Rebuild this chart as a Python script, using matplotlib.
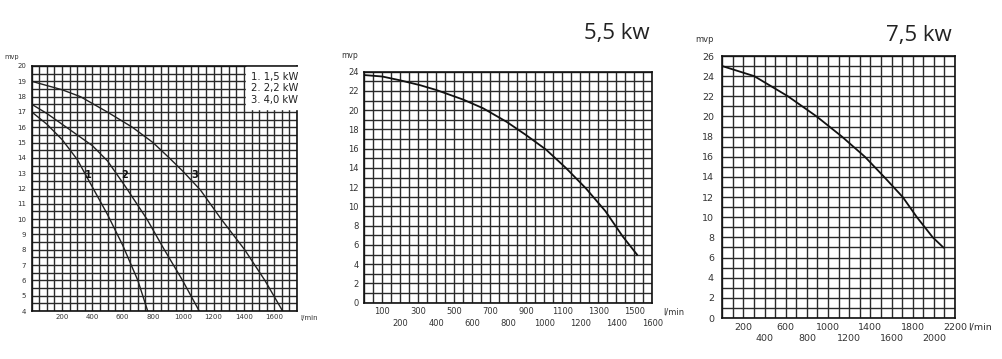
import numpy as np
import matplotlib
matplotlib.use("Agg")
import matplotlib.pyplot as plt
from matplotlib.ticker import MultipleLocator

# Curvas Q-H de las bombas
# Panel 1: tres motores
q_15 = [0, 100, 200, 300, 400, 500, 600, 700, 765]
h_15 = [17.0, 16.2, 15.2, 13.9, 12.1, 10.3, 8.3, 6.0, 4.0]
q_22 = [0, 100, 200, 300, 400, 500, 620, 760, 875, 995, 1105]
h_22 = [17.5, 16.9, 16.2, 15.5, 14.8, 13.8, 12.1, 10.0, 8.0, 6.0, 4.0]
q_40 = [0, 200, 321, 498, 664, 800, 907, 1000, 1113, 1250, 1405, 1538, 1655]
h_40 = [19.0, 18.45, 18.0, 17.0, 16.0, 15.0, 14.0, 13.1, 11.9, 10.0, 8.0, 6.0, 4.0]

# Panel 2: 5,5 kW
q_55 = [0, 100, 200, 310, 400, 550, 660, 790, 900, 1010, 1120, 1230, 1340, 1435, 1515]
h_55 = [23.65, 23.5, 23.1, 22.6, 22.1, 21.1, 20.2, 18.8, 17.4, 15.9, 14.0, 11.9, 9.5, 6.9, 5.0]

# Panel 3: 7,5 kW
q_75 = [0, 302, 621, 892, 1131, 1348, 1530, 1706, 1840, 1990, 2090]
h_75 = [25.0, 24.0, 22.0, 20.0, 18.0, 16.0, 14.0, 12.0, 10.0, 8.0, 7.0]

legend_lines = ["1. 1,5 kW", "2. 2,2 kW", "3. 4,0 kW"]
curve_tags = ["1", "2", "3"]
tag_q = [375, 615, 1075]
tag_h = [12.85, 12.85, 12.85]

# etiquetas del eje x (dos filas escalonadas en los paneles 2 y 3)
x1_ticks = list(range(200, 1700, 200))
x2_top = list(range(100, 1600, 200))
x2_bot = list(range(200, 1700, 200))
x3_top = list(range(200, 2300, 400))
x3_bot = list(range(400, 2100, 400))

W, H = 1002, 359
fig = plt.figure(figsize=(W / 100, H / 100), dpi=100)
fig.patch.set_facecolor("white")


def make_axes(left, top, right, bottom):
    return fig.add_axes([left / W, 1 - bottom / H, (right - left) / W, (bottom - top) / H])


def style_axes(ax, xlim, ylim, xgrid, ygrid, xticks, yticks, fs, xpad, ypad):
    ax.set_xlim(*xlim)
    ax.set_ylim(*ylim)
    ax.xaxis.set_minor_locator(MultipleLocator(xgrid))
    ax.yaxis.set_minor_locator(MultipleLocator(ygrid))
    ax.set_xticks(xticks)
    ax.set_xticklabels([str(v) for v in xticks])
    ax.set_yticks(yticks)
    ax.set_yticklabels([str(v) for v in yticks])
    ax.grid(which="both", color="#2a2a2a", linewidth=1.0)
    ax.tick_params(which="both", length=0)
    ax.tick_params(axis="x", labelsize=fs, pad=xpad, colors="#333333")
    ax.tick_params(axis="y", labelsize=fs, pad=ypad, colors="#333333")
    for s in ax.spines.values():
        s.set_color("#111111")
        s.set_linewidth(1.2)
    ax.set_axisbelow(True)


def second_row(ax, ticks, fs, pad):
    sec = ax.secondary_xaxis("bottom")
    sec.set_xticks(ticks)
    sec.set_xticklabels([str(v) for v in ticks])
    sec.tick_params(length=0, labelsize=fs, pad=pad, colors="#333333")
    sec.spines["bottom"].set_visible(False)


# ---- Panel 1 ----
ax1 = make_axes(31.7, 66, 297, 311)
style_axes(ax1, (0, 1750), (4, 20), 50, 0.5, x1_ticks, list(range(4, 21)), 5, 2.5, 4)
for q, h in [(q_15, h_15), (q_22, h_22), (q_40, h_40)]:
    ax1.plot(q, h, color="#222222", linewidth=1.0)
for t, q, h in zip(curve_tags, tag_q, tag_h):
    ax1.text(q, h, t, fontsize=7, fontweight="bold", ha="center", va="center",
             color="#111111")
ax1.text(0.828, 0.975, "\n".join(legend_lines), transform=ax1.transAxes,
         fontsize=7.2, ha="left", va="top", linespacing=1.15, color="#222222",
         bbox=dict(facecolor="white", edgecolor="white", pad=3.5))
fig.text(11.7 / W, 1 - 57 / H, "mvp", fontsize=4.8, ha="center", va="center", color="#333333")
fig.text(300 / W, 1 - 318 / H, "l/min", fontsize=5, ha="left", va="center", color="#333333")

# ---- Panel 2 ----
ax2 = make_axes(364.3, 71.7, 652.3, 302.7)
style_axes(ax2, (0, 1600), (0, 24), 50, 1, x2_top, list(range(0, 25, 2)), 6, 3, 4)
second_row(ax2, x2_bot, 6, 11.4)
ax2.plot(q_55, h_55, color="#111111", linewidth=1.3)
fig.text(650 / W, 1 - 34 / H, "5,5 kw", fontsize=16, ha="right", va="center",
         family="Open Sans", color="#222222")
fig.text(350 / W, 1 - 55 / H, "mvp", fontsize=5.5, ha="center", va="center", color="#333333")
fig.text(663 / W, 1 - 311.7 / H, "l/min", fontsize=6, ha="left", va="center", color="#333333")

# ---- Panel 3 ----
ax3 = make_axes(722.3, 56, 955, 318)
style_axes(ax3, (0, 2200), (0, 26), 100, 1, x3_top, list(range(0, 27, 2)), 6.8, 3.5, 6)
second_row(ax3, x3_bot, 6.8, 11.4)
ax3.plot(q_75, h_75, color="#111111", linewidth=1.3)
fig.text(952 / W, 1 - 35 / H, "7,5 kw", fontsize=16, ha="right", va="center",
         family="Open Sans", color="#222222")
fig.text(705 / W, 1 - 40 / H, "mvp", fontsize=6, ha="center", va="center", color="#333333")
fig.text(968 / W, 1 - 326.7 / H, "l/min", fontsize=6.8, ha="left", va="center", color="#333333")

fig.savefig("out.png", dpi=100, facecolor="white")
